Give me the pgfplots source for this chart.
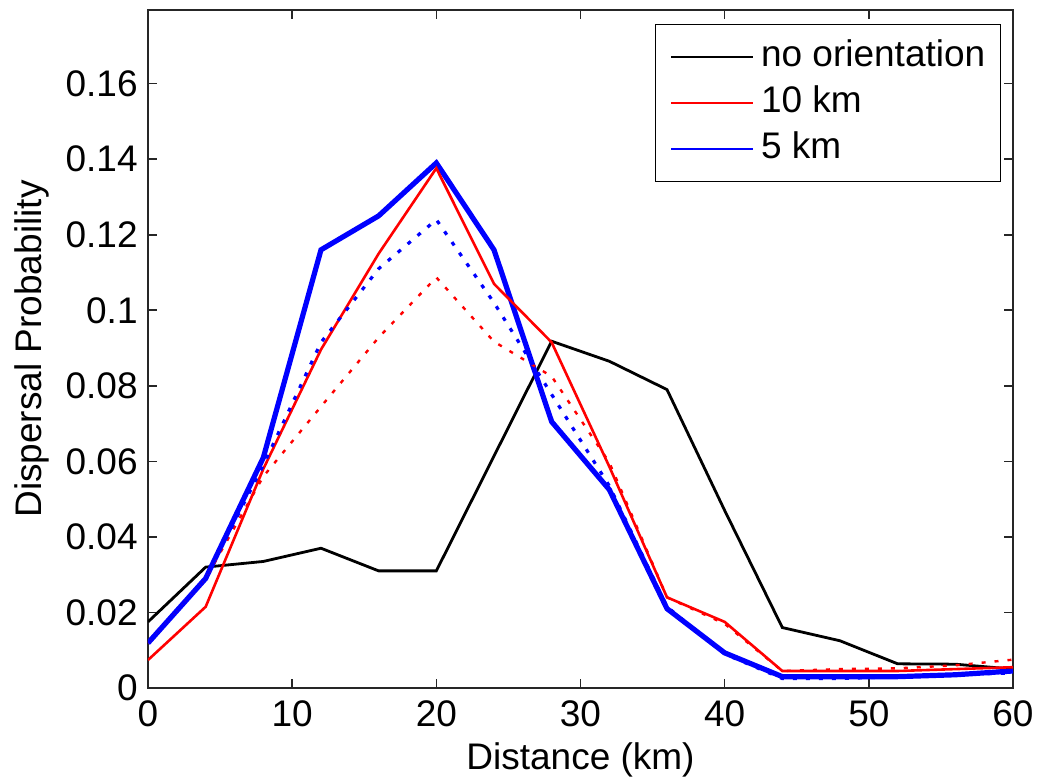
\documentclass[border=0pt]{standalone}
\usepackage{pgfplots}
\usepackage{pgfplotstable}
\pgfplotsset{compat=1.18}
\usepackage{fontspec}
\setmainfont{Liberation Sans}
\pgfplotstableread{
x  blk     red     blu     reddot  bludot
0  0.0175  0.0074  0.0119  0.0119  0.0119
4  0.0320  0.0215  0.0290  0.0290  0.0290
8  0.0335  0.0580  0.0610  0.0560  0.0590
12 0.0370  0.0896  0.1160  0.0745  0.0915
16 0.0310  0.1150  0.1250  0.0928  0.1110
20 0.0310  0.1376  0.1390  0.1087  0.1240
24 0.0614  0.1070  0.1160  0.0917  0.1020
28 0.0918  0.0915  0.0705  0.0825  0.0777
32 0.0865  0.0586  0.0525  0.0597  0.0535
36 0.0790  0.0240  0.0210  0.0240  0.0215
40 0.0470  0.0175  0.0093  0.0170  0.0090
44 0.0160  0.0045  0.0030  0.0045  0.0025
48 0.0125  0.0045  0.0030  0.0050  0.0025
52 0.0064  0.0045  0.0030  0.0052  0.0030
56 0.0063  0.0050  0.0035  0.0060  0.0035
60 0.0050  0.0055  0.0045  0.0075  0.0040
}\datatab
\newcommand{\ff}{\fontsize{18.5pt}{22pt}\selectfont}
\begin{document}
\begin{tikzpicture}
\begin{axis}[
  scale only axis, width=432.5pt, height=339pt,
  xmin=0, xmax=60, ymin=0, ymax=0.1795,
  xtick={0,10,20,30,40,50,60},
  ytick={0,0.02,0.04,0.06,0.08,0.1,0.12,0.14,0.16},
  scaled y ticks=false,
  tick align=inside,
  major tick length=4.5pt,
  axis line style={line width=0.8pt, black!85},
  every tick/.style={line width=0.8pt, black!85},
  /pgf/number format/.cd, fixed, precision=2, assume math mode=true,
  /pgfplots/.cd,
  tick label style={font=\ff},
  xticklabel style={anchor=north, inner sep=0pt, yshift=-6pt},
  yticklabel style={anchor=east, inner sep=0pt, xshift=-5pt},
  xlabel={Distance (km)},
  ylabel={Dispersal Probability},
  label style={font=\ff},
  xlabel style={at={(axis description cs:0.5,0)}, anchor=north, inner sep=0pt, yshift=-27pt},
  ylabel style={at={(axis description cs:-0.134,0.5)}, anchor=center, inner sep=0pt},
  legend style={at={(rel axis cs:1,1)}, anchor=north east, xshift=-6pt, yshift=-7pt,
    draw=black, line width=0.7pt, font=\ff, inner xsep=7.5pt, inner ysep=7.5pt,
    row sep=5.5pt,
    nodes={inner sep=0pt, text height=13.5pt, text depth=4pt}},
  legend cell align=left,
  legend image code/.code={\draw[#1, line width=1.1pt] (0pt,0pt) -- (41pt,0pt); \path (44.5pt,0pt);},
]
\addlegendimage{black}
\addlegendentry{no orientation}
\addlegendimage{red}
\addlegendentry{10 km}
\addlegendimage{blue}
\addlegendentry{5 km}
\addplot[forget plot, black, line width=1.4pt] table[x=x, y=blk] {\datatab};
\addplot[forget plot, blue, line width=2.6pt] table[x=x, y=blu] {\datatab};
\addplot[forget plot, red, line width=1.3pt] table[x=x, y=red] {\datatab};
\addplot[forget plot, red, line width=1.2pt, dash pattern=on 2pt off 4.5pt] table[x=x, y=reddot] {\datatab};
\addplot[forget plot, blue, line width=1.6pt, dash pattern=on 2pt off 4.5pt] table[x=x, y=bludot] {\datatab};
\end{axis}
\pgfresetboundingbox
\useasboundingbox ([shift={(-74pt,-47.5pt)}]current axis.south west) rectangle ([shift={(12pt,5pt)}]current axis.north east);
\end{tikzpicture}
\end{document}
